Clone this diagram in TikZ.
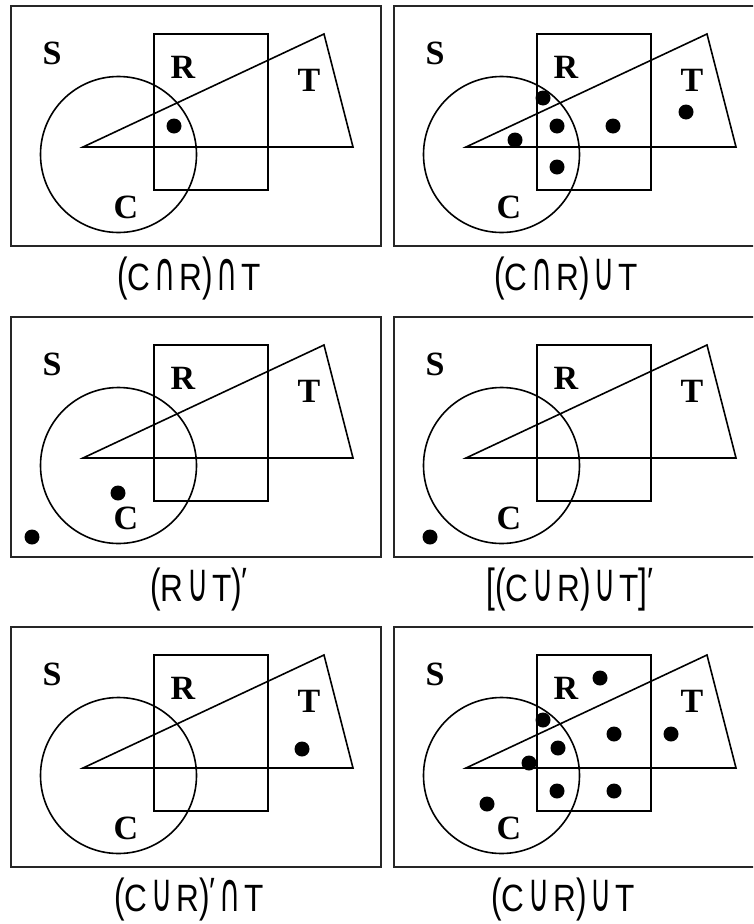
\documentclass[tikz,border=0pt]{standalone}
\usepackage{fontspec}
\setmainfont{Liberation Serif}
\newfontfamily\legfont[FakeStretch=0.83]{Liberation Sans}
\newfontfamily\opfont{DejaVu Sans}
\newcommand{\interseccao}{\hspace{0.1em}\scalebox{0.76}[1.42]{\opfont ∩}\hspace{0.1em}}
\newcommand{\uniao}{\hspace{0.1em}\scalebox{0.76}[1.42]{\opfont ∪}\hspace{0.1em}}
\newcommand{\compl}{\raisebox{0.18em}{′}}
\newcommand{\pab}{\scalebox{1}[1.22]{(}}
\newcommand{\paf}{\scalebox{1}[1.22]{)}}
\newcommand{\cab}{\scalebox{1}[1.22]{[}}
\newcommand{\caf}{\scalebox{1}[1.22]{]}}

\begin{document}
\begin{tikzpicture}[
            x=1pt, y=-1pt,
            universo/.style={draw=black!85, line width=1.8pt},
            conjunto/.style={draw, line width=1.6pt, line join=miter},
            rotulo/.style={font=\bfseries\fontsize{34}{36}\selectfont, inner sep=0pt},
            legenda/.style={font=\legfont\fontsize{38}{42}\selectfont, inner sep=0pt, anchor=base},
            ponto/.style={fill=black}
        ]
            \useasboundingbox (0,0) rectangle (753,924);
            \clip (0,0) rectangle (753,924);

            % Os seis quadros: universo S, retangulo R, triangulo T e circulo C
            \foreach \q/\xo/\yo in {1/11/6, 2/394/6, 3/11/317, 4/394/317, 5/11/627, 6/394/627}{
                \begin{scope}[shift={(\xo,\yo)}]
                    \draw[universo] (0,0) rectangle (370,240);
                    \draw[conjunto] (143,28) rectangle (257,184);
                    \draw[conjunto] (107.5,148.5) circle[radius=78];
                    \draw[conjunto] (72,141) -- (313,28) -- (342,141) -- cycle;
                    \node[rotulo] (s_\q) at (41,47) {S};
                    \node[rotulo] (r_\q) at (172,61) {R};
                    \node[rotulo] (t_\q) at (298,74) {T};
                    \node[rotulo] (c_\q) at (115,201) {C};
                \end{scope}
            }

            % --- Pontos de cada regiao ---
            \fill[ponto] (174,126) circle[radius=7.5];
            \foreach \p in {(543,98), (557,126), (515,140), (557,167), (613,126), (686,112)}
                \fill[ponto] \p circle[radius=7.5];
            \foreach \p in {(118,493), (32,537), (430,537), (302,749)}
                \fill[ponto] \p circle[radius=7.5];
            \foreach \p in {(543,720), (558,748), (529,763), (557,791), (614,791), (614,734), (671,734), (600,678), (487,804)}
                \fill[ponto] \p circle[radius=7.5];

            % --- Legendas (na linha de base) ---
            \node[legenda] (leg_1) at (189,290) {\pab C\interseccao R\paf\interseccao T};
            \node[legenda] (leg_2) at (566,290) {\pab C\interseccao R\paf\uniao T};
            \node[legenda] (leg_3) at (199,601) {\pab R\uniao T\paf\compl};
            \node[legenda] (leg_4) at (570,601) {\cab\pab C\uniao R\paf\uniao T\caf\compl};
            \node[legenda] (leg_5) at (189,911) {\pab C\uniao R\paf\compl\interseccao T};
            \node[legenda] (leg_6) at (563,911) {\pab C\uniao R\paf\uniao T};

        \end{tikzpicture}
\end{document}
